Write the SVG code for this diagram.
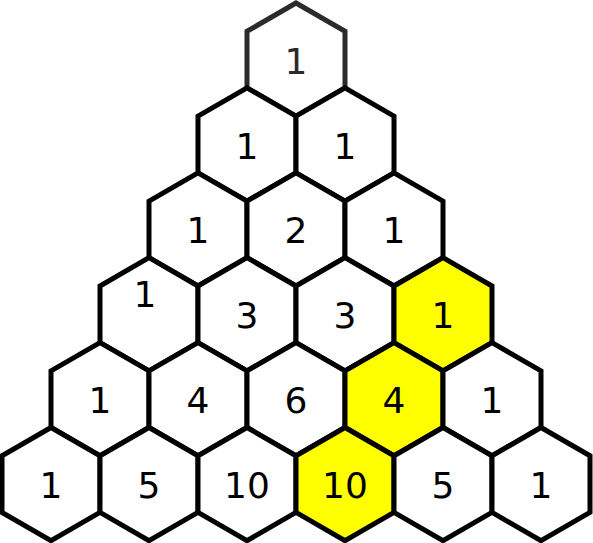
<svg xmlns="http://www.w3.org/2000/svg" width="593" height="543" viewBox="0 0 593 543">
<style>
.h{fill:#fff;stroke:#000;stroke-width:5;stroke-linejoin:miter}
.y{fill:#ffff00}
.top{stroke:#2b2b2b}
text{font-family:"DejaVu Sans",sans-serif;font-size:36px;text-anchor:middle;fill:#000}
.tt{fill:#2b2b2b}
</style>
<defs>
<polygon id="hex" points="0,-56.6 49,-28.3 49,28.3 0,56.6 -49,28.3 -49,-28.3"/>
</defs>
<rect width="593" height="543" fill="#fff"/>
<g id="r0c0" transform="translate(296,59.6)"><use href="#hex" class="h top"/><text y="14" class="tt">1</text></g>
<g id="r1c0" transform="translate(247,144.5)"><use href="#hex" class="h"/><text y="14">1</text></g>
<g id="r1c1" transform="translate(345,144.5)"><use href="#hex" class="h"/><text y="14">1</text></g>
<g id="r2c0" transform="translate(198,229.4)"><use href="#hex" class="h"/><text y="14">1</text></g>
<g id="r2c1" transform="translate(296,229.4)"><use href="#hex" class="h"/><text y="14">2</text></g>
<g id="r2c2" transform="translate(394,229.4)"><use href="#hex" class="h"/><text y="14">1</text></g>
<g id="r3c0" transform="translate(149,314.3)"><use href="#hex" class="h"/><text x="-4" y="-7">1</text></g>
<g id="r3c1" transform="translate(247,314.3)"><use href="#hex" class="h"/><text y="14">3</text></g>
<g id="r3c2" transform="translate(345,314.3)"><use href="#hex" class="h"/><text y="14">3</text></g>
<g id="r3c3" transform="translate(443,314.3)"><use href="#hex" class="h y"/><text y="14">1</text></g>
<g id="r4c0" transform="translate(100,399.2)"><use href="#hex" class="h"/><text y="14">1</text></g>
<g id="r4c1" transform="translate(198,399.2)"><use href="#hex" class="h"/><text y="14">4</text></g>
<g id="r4c2" transform="translate(296,399.2)"><use href="#hex" class="h"/><text y="14">6</text></g>
<g id="r4c3" transform="translate(394,399.2)"><use href="#hex" class="h y"/><text y="14">4</text></g>
<g id="r4c4" transform="translate(492,399.2)"><use href="#hex" class="h"/><text y="14">1</text></g>
<g id="r5c0" transform="translate(51,484.1)"><use href="#hex" class="h"/><text y="14">1</text></g>
<g id="r5c1" transform="translate(149,484.1)"><use href="#hex" class="h"/><text y="14">5</text></g>
<g id="r5c2" transform="translate(247,484.1)"><use href="#hex" class="h"/><text y="14">10</text></g>
<g id="r5c3" transform="translate(345,484.1)"><use href="#hex" class="h y"/><text y="14">10</text></g>
<g id="r5c4" transform="translate(443,484.1)"><use href="#hex" class="h"/><text y="14">5</text></g>
<g id="r5c5" transform="translate(541,484.1)"><use href="#hex" class="h"/><text y="14">1</text></g>
<g id="connectors"/>
</svg>
